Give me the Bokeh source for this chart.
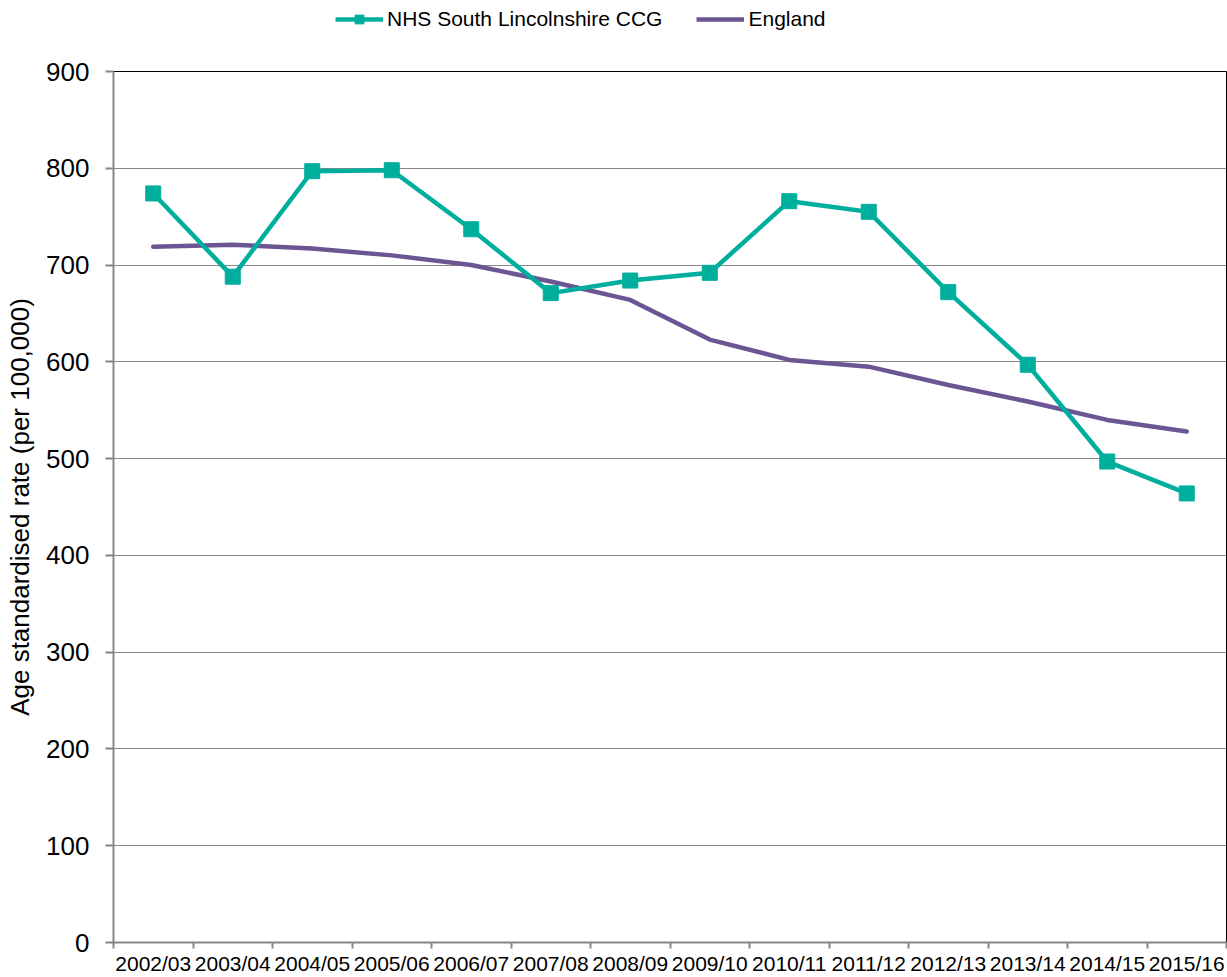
from bokeh.plotting import figure
from bokeh.layouts import column
from bokeh.models import FixedTicker, Legend, LegendItem, Range1d
from bokeh.embed import file_html
from bokeh.resources import INLINE

categories = ["2002/03", "2003/04", "2004/05", "2005/06", "2006/07", "2007/08", "2008/09",
              "2009/10", "2010/11", "2011/12", "2012/13", "2013/14", "2014/15", "2015/16"]
ccg = [774, 688, 797, 798, 737, 671, 684, 692, 766, 755, 672, 597, 497, 464]
england = [719, 721, 717, 710, 700, 683, 664, 623, 602, 595, 576, 559, 540, 528]
y_ticks = [0, 100, 200, 300, 400, 500, 600, 700, 800, 900]
series_names = ["NHS South Lincolnshire CCG", "England"]

TEAL = "#00AE9E"
PURPLE = "#6B5592"
FONT = "Liberation Sans"
GREY = "#878787"

n = len(categories)
x = [i + 0.5 for i in range(n)]

# ---------------- main chart ----------------
p = figure(width=1227, height=932,
           min_border_left=113, min_border_right=1, min_border_top=26, min_border_bottom=35,
           x_range=Range1d(0, n), y_range=Range1d(0, 900),
           output_backend="svg", toolbar_location=None)
p.background_fill_color = "white"
p.border_fill_color = "white"
p.outline_line_color = "black"
p.outline_line_width = 1

p.line(x, england, line_color=PURPLE, line_width=4.5, line_join="round", line_cap="round")
p.line(x, ccg, line_color=TEAL, line_width=4.5, line_join="miter")
p.scatter(x, ccg, marker="square", size=15, fill_color=TEAL, line_color=TEAL)

# x axis
p.xaxis.ticker = FixedTicker(ticks=x, minor_ticks=list(range(n + 1)))
p.xaxis.major_label_overrides = {xi: c for xi, c in zip(x, categories)}
p.xaxis.major_tick_line_color = None
p.xaxis.minor_tick_line_color = GREY
p.xaxis.minor_tick_line_width = 2
p.xaxis.minor_tick_out = 6
p.xaxis.minor_tick_in = 0
p.xaxis.axis_line_color = GREY
p.xaxis.axis_line_width = 2
p.xaxis.major_label_text_font = FONT
p.xaxis.major_label_text_font_size = "21px"
p.xaxis.major_label_text_color = "black"
p.xaxis.major_label_standoff = 3

# y axis
p.yaxis.ticker = FixedTicker(ticks=y_ticks)
p.yaxis.major_tick_line_color = GREY
p.yaxis.major_tick_line_width = 2
p.yaxis.major_tick_out = 8
p.yaxis.major_tick_in = 0
p.yaxis.minor_tick_line_color = None
p.yaxis.axis_line_color = GREY
p.yaxis.axis_line_width = 2
p.yaxis.major_label_text_font = FONT
p.yaxis.major_label_text_font_size = "26px"
p.yaxis.major_label_text_color = "black"
p.yaxis.major_label_standoff = 16
p.yaxis.axis_label = "Age standardised rate (per 100,000)"
p.yaxis.axis_label_text_font = FONT
p.yaxis.axis_label_text_font_size = "26px"
p.yaxis.axis_label_text_font_style = "normal"
p.yaxis.axis_label_text_color = "black"
p.yaxis.axis_label_standoff = 8

p.xgrid.grid_line_color = None
p.ygrid.grid_line_color = GREY
p.ygrid.grid_line_width = 1

# ---------------- legend strip ----------------
# the series are drawn again here only so the legend has styled renderers;
# they lie outside this strip's y range and are therefore not visible.
lg = figure(width=1227, height=45, min_border=0,
            x_range=Range1d(0, n), y_range=Range1d(0, 45),
            x_axis_type=None, y_axis_type=None,
            output_backend="svg", toolbar_location=None)
lg.outline_line_color = None
lg.xgrid.grid_line_color = None
lg.ygrid.grid_line_color = None
k1 = lg.line(x, ccg, line_color=TEAL, line_width=4.5)
k2 = lg.scatter(x, ccg, marker="square", size=14, fill_color=TEAL, line_color=TEAL)
k3 = lg.line(x, england, line_color=PURPLE, line_width=4.5)

legend = Legend(items=[LegendItem(label=series_names[0], renderers=[k1, k2]),
                       LegendItem(label=series_names[1], renderers=[k3])],
                orientation="horizontal", location=(222, 14),
                label_text_font=FONT, label_text_font_size="21px", label_text_color="black",
                glyph_width=48, glyph_height=22, spacing=34, label_standoff=4,
                border_line_alpha=0, background_fill_alpha=0, margin=0, padding=0)
lg.add_layout(legend, "center")

layout = column(lg, p, spacing=0)
open("out.html", "w").write(file_html(layout, INLINE))
